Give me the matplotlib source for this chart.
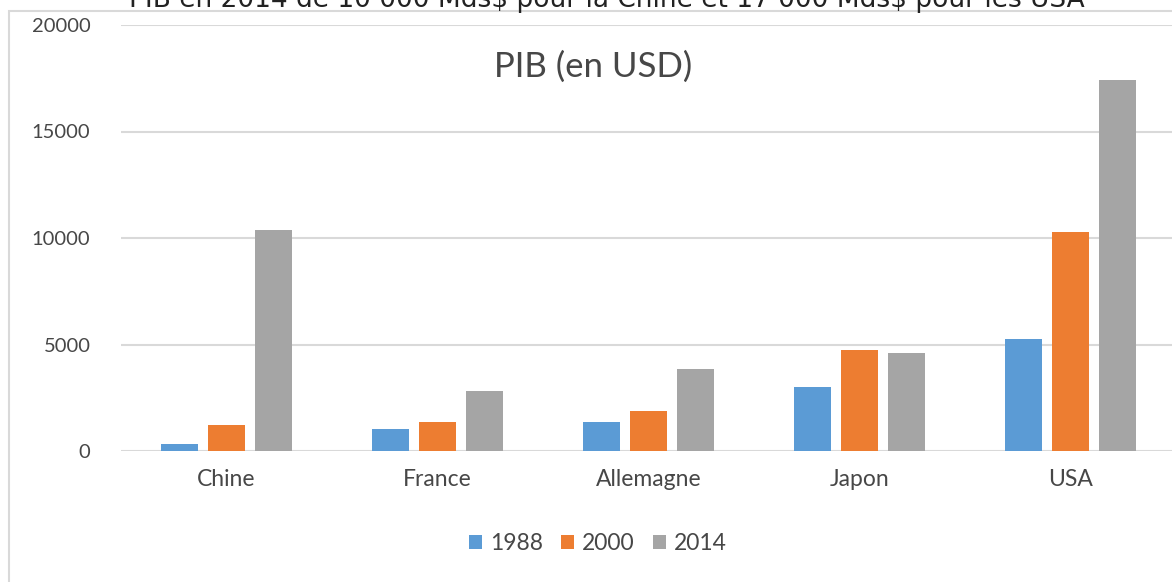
import matplotlib.pyplot as plt
import matplotlib.patches as mpatches
import numpy as np

pays = ['Chine', 'France', 'Allemagne', 'Japon', 'USA']
annees = ['1988', '2000', '2014']
pib_1988 = [312, 1020, 1350, 3000, 5250]
pib_2000 = [1211, 1360, 1870, 4760, 10290]
pib_2014 = [10360, 2830, 3830, 4580, 17420]
couleurs = ['#5B9BD5', '#ED7D31', '#A5A5A5']

plt.rcParams['font.family'] = ['Lato', 'DejaVu Sans']
gris_texte = '#474747'

W, H = 1172, 582
fig = plt.figure(figsize=(W / 100, H / 100), dpi=100)

# cadre du graphique (coupe a droite et en bas)
cadre = mpatches.Rectangle((9 / W, -0.05), 1.1, 1 - 11 / H + 0.05,
                           transform=fig.transFigure, fill=False,
                           edgecolor='#D9D9D9', linewidth=1.5, clip_on=False)
fig.patches.append(cadre)

# texte du diapo, coupe en haut comme sur la capture
fig.text(607 / W, 1 - 7 / H,
         r'PIB en 2014 de 10 000 Mds\$ pour la Chine et 17 000 Mds\$ pour les USA',
         ha='center', va='baseline', fontsize=19, color='#222222',
         family=['DejaVu Sans'])

left, right = 121 / W, 1176 / W
bottom, top = (H - 451) / H, (H - 25) / H
ax = fig.add_axes([left, bottom, right - left, top - bottom])

x = np.arange(len(pays))
largeur = 0.178
pas = 0.223
for i, (vals, c, lab) in enumerate(zip([pib_1988, pib_2000, pib_2014], couleurs, annees)):
    ax.bar(x + (i - 1) * pas, vals, width=largeur, color=c, label=lab, zorder=3)

ax.set_xlim(-0.5, 4.5)
ax.set_ylim(0, 20000)
ax.set_yticks([0, 5000, 10000, 15000, 20000])
ax.set_xticks(x)
ax.set_xticklabels(pays)
ax.grid(axis='y', color='#D9D9D9', linewidth=1.5, zorder=0)
for s in ax.spines.values():
    s.set_visible(False)
ax.tick_params(length=0, labelcolor=gris_texte)
ax.tick_params(axis='y', pad=22, labelsize=14.5)
ax.tick_params(axis='x', pad=13, labelsize=16.5)

fig.text(593 / W, 1 - 67 / H, 'PIB (en USD)', ha='center', va='center',
         fontsize=25, color=gris_texte)

leg = fig.legend(loc='center', bbox_to_anchor=(598 / W, 1 - 544 / H), ncol=3,
                 frameon=False, fontsize=16.5, handlelength=0.55, handleheight=0.55,
                 handletextpad=0.35, columnspacing=0.8)
for t in leg.get_texts():
    t.set_color(gris_texte)

fig.savefig('out.png', dpi=100)
